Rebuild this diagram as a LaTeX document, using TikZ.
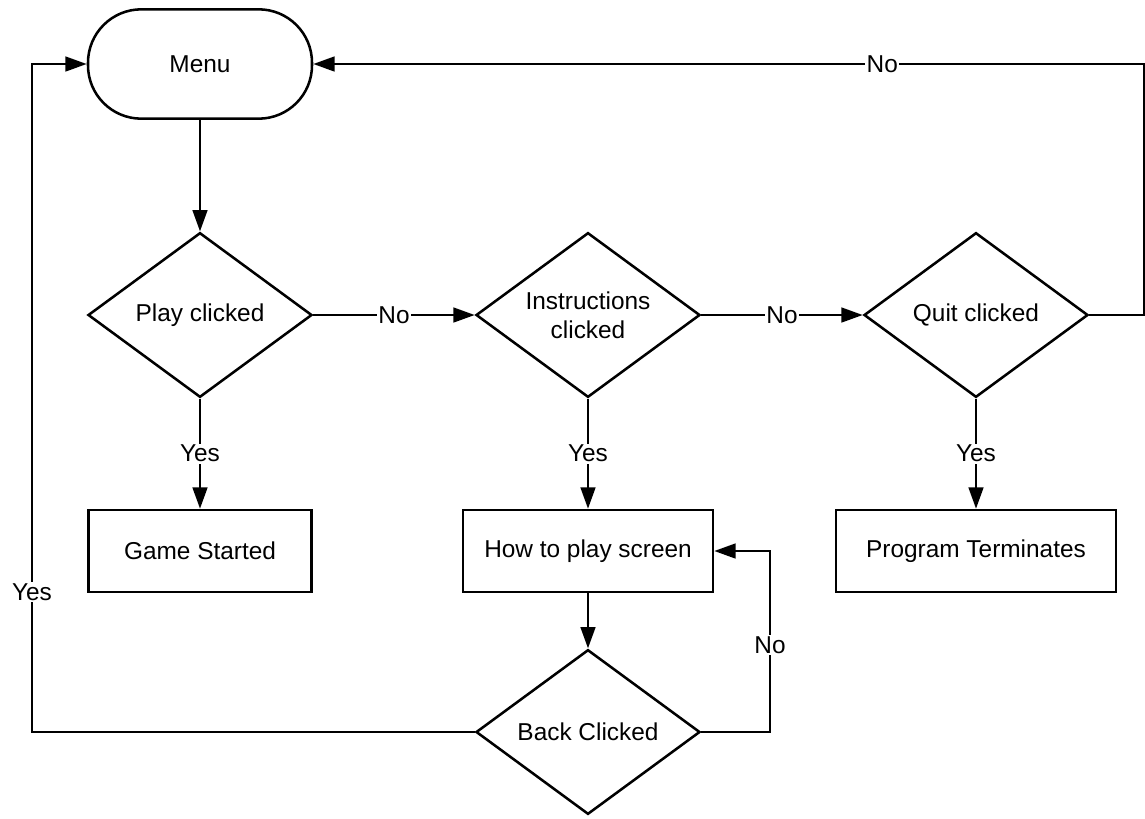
\documentclass[tikz,border=0pt]{standalone}
\usepackage{fontspec}
\setmainfont{Liberation Sans}
\usetikzlibrary{arrows.meta,shapes.geometric}
\begin{document}
\begin{tikzpicture}[x=0.75pt,y=-0.75pt,
  every node/.style={font=\fontsize{18.3}{22}\selectfont},
  shp/.style={draw,line width=1.9pt,inner sep=0pt},
  menubox/.style={shp,rectangle,rounded corners=40pt,minimum width=168pt,minimum height=82pt},
  dec/.style={shp,diamond,aspect=1.36,minimum width=168pt,minimum height=123.5pt,align=center},
  procbox/.style={shp,rectangle,minimum height=61.5pt},
  conn/.style={line width=1.9pt},
  arr/.style={conn,-{Triangle[length=16pt,width=11pt]}},
  lbl/.style={fill=white,inner sep=1pt}
]
\useasboundingbox (0,0) rectangle (1145,818);
\node[menubox] (menu) at (200,64) {Menu};
\node[dec] (play) at (200,315) {Play clicked};
\node[dec] (instr) at (588,315) {Instructions\\clicked};
\node[dec] (quit) at (976,315) {Quit clicked};
\node[procbox,minimum width=167pt] (game) at (200,551) {Game Started};
\node[procbox,minimum width=187.5pt] (howto) at (588,551) {How to play screen};
\node[procbox,minimum width=210pt] (prog) at (976,551) {Program Terminates};
\node[dec] (back) at (588,732) {Back Clicked};

\coordinate (qr) at (1144,315);
\coordinate (qt) at (1144,64);
\coordinate (br) at (770,732);
\coordinate (bt) at (770,551);
\coordinate (bl) at (32,732);
\coordinate (blt) at (32,64);

\draw[arr] (menu) -- (play);
\draw[arr] (play) -- node[lbl] {No} (instr);
\draw[arr] (instr) -- node[lbl] {No} (quit);
\draw[arr] (quit.east) -- (qr) -- (qt) -- node[lbl,pos=0.315] {No} (menu.east);
\draw[arr] (play) -- node[lbl] {Yes} (game);
\draw[arr] (instr) -- node[lbl] {Yes} (howto);
\draw[arr] (quit) -- node[lbl] {Yes} (prog);
\draw[arr] (howto) -- (back);
\draw[arr] (back.east) -- (br) -- node[lbl,pos=0.48] {No} (bt) -- (howto.east);
\draw[arr] (back.west) -- (bl) -- node[lbl,pos=0.21] {Yes} (blt) -- (menu.west);
\end{tikzpicture}
\end{document}
